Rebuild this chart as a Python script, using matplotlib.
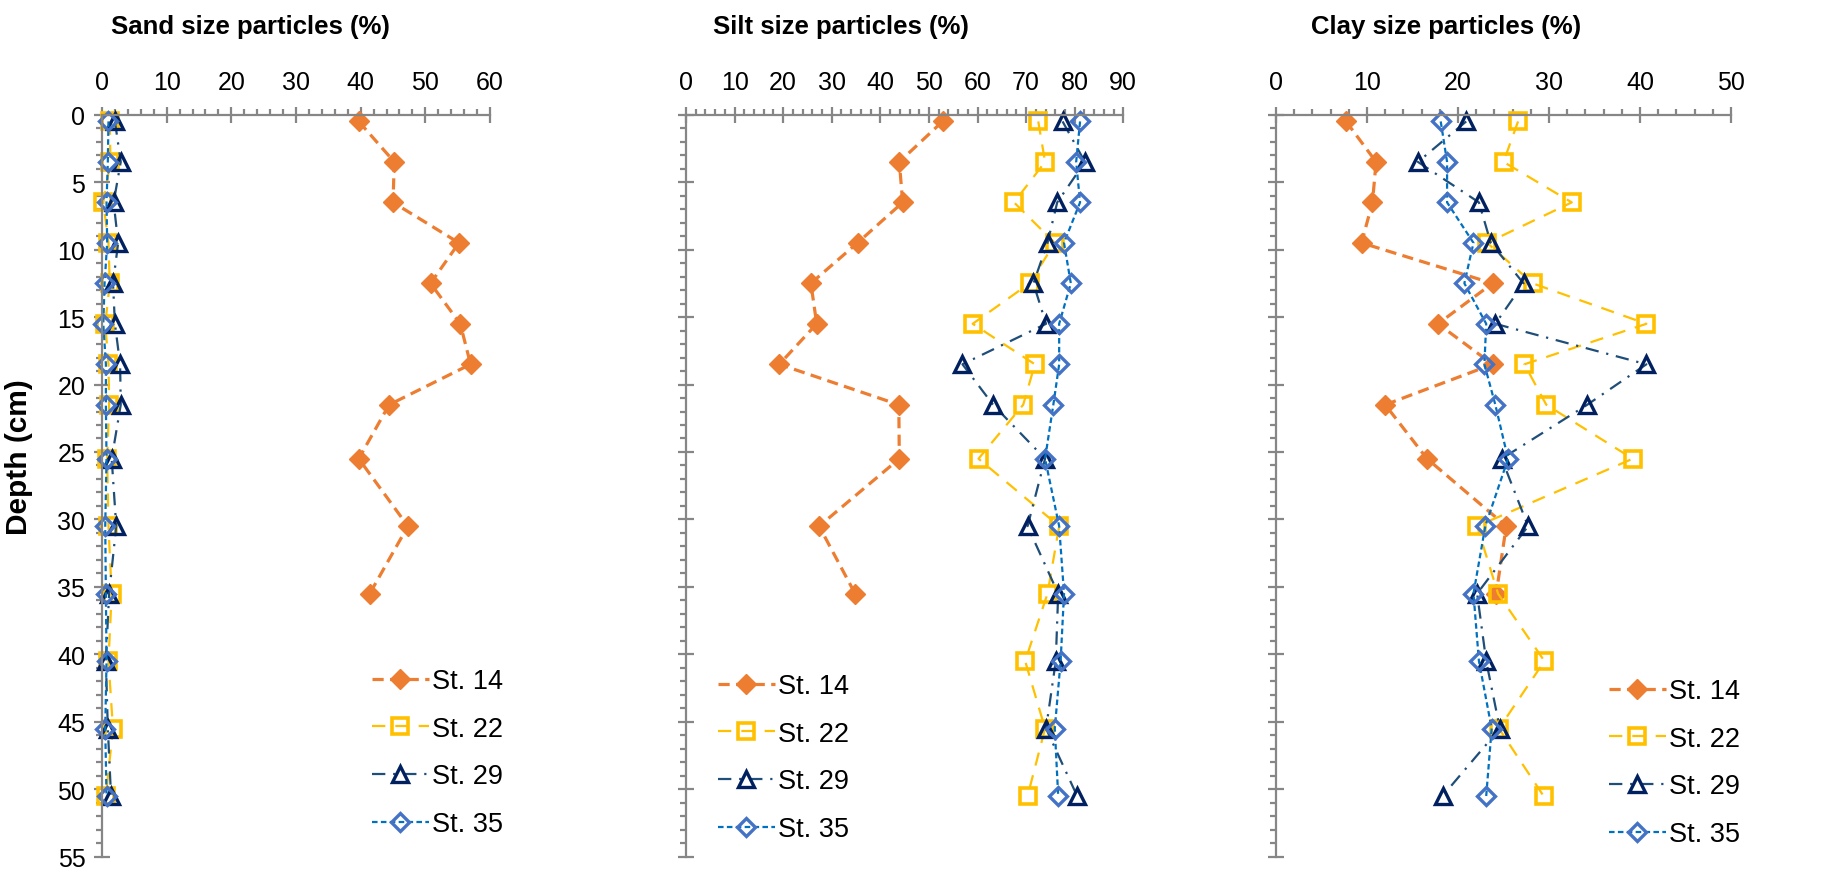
import matplotlib
matplotlib.use("Agg")
import matplotlib.pyplot as plt
from matplotlib.ticker import MultipleLocator

plt.rcParams['font.family'] = ['Liberation Sans', 'DejaVu Sans']

depths = [0.5, 3.5, 6.5, 9.5, 12.5, 15.5, 18.5, 21.5, 25.5, 30.5, 35.5, 40.5, 45.5, 50.5]
stations = ["St. 14", "St. 22", "St. 29", "St. 35"]

sand_st14 = [39.7, 45.2, 45.0, 55.2, 50.8, 55.4, 57.0, 44.4, 39.7, 47.3, 41.4]
sand_st22 = [1.2, 1.3, 0.2, 1.0, 1.2, 0.5, 1.0, 1.1, 0.8, 1.0, 1.5, 1.0, 1.7, 0.6]
sand_st29 = [2.0, 2.9, 1.8, 2.5, 1.7, 2.0, 2.8, 2.9, 1.5, 2.2, 1.1, 0.6, 0.9, 1.4]
sand_st35 = [1.0, 0.9, 0.7, 0.8, 0.4, 0.2, 0.6, 0.6, 0.7, 0.5, 0.6, 0.7, 0.5, 0.7]

silt_st14 = [52.8, 43.9, 44.6, 35.3, 25.7, 26.9, 19.2, 43.8, 43.9, 27.4, 34.8]
silt_st22 = [72.5, 73.9, 67.5, 75.9, 70.7, 59.0, 71.8, 69.4, 60.2, 76.8, 74.4, 69.8, 73.9, 70.3]
silt_st29 = [77.5, 82.1, 76.4, 74.4, 71.5, 74.1, 56.9, 63.2, 73.9, 70.3, 76.6, 76.1, 74.1, 80.5]
silt_st35 = [81.1, 80.3, 81.1, 77.8, 79.2, 76.8, 76.8, 75.6, 73.9, 76.8, 77.8, 77.1, 75.9, 76.6]

clay_st14 = [7.7, 11.0, 10.6, 9.4, 23.8, 17.8, 23.8, 12.0, 16.6, 25.3, 24.2]
clay_st22 = [26.6, 25.0, 32.5, 23.2, 28.2, 40.7, 27.3, 29.7, 39.2, 22.1, 24.4, 29.5, 24.5, 29.4]
clay_st29 = [20.9, 15.6, 22.3, 23.6, 27.2, 24.1, 40.7, 34.2, 24.8, 27.7, 22.1, 23.1, 24.6, 18.3]
clay_st35 = [18.1, 18.8, 18.8, 21.7, 20.7, 23.1, 22.9, 24.1, 25.5, 23.0, 21.7, 22.3, 23.7, 23.1]

titles = ["Sand size particles (%)", "Silt size particles (%)", "Clay size particles (%)"]
xmaxes = [60, 90, 50]
panels = [
    [sand_st14, sand_st22, sand_st29, sand_st35],
    [silt_st14, silt_st22, silt_st29, silt_st35],
    [clay_st14, clay_st22, clay_st29, clay_st35],
]

styles = [
    dict(color='#ED7D31', lw=2.3, ls=(0, (3.5, 2.0)), marker='D', ms=10.5, mfc='#ED7D31', mec='#ED7D31', mew=1),
    dict(color='#FFC000', lw=1.6, ls=(0, (6, 4.5)), marker='s', ms=11.5, mfc='none', mec='#FFC000', mew=2.6),
    dict(color='#1F4E79', lw=1.6, ls=(0, (6, 3.5, 1, 3.5)), marker='^', ms=11.5, mfc='none', mec='#002060', mew=2.4),
    dict(color='#0070C0', lw=1.6, ls=(0, (2.5, 1.5)), marker='D', ms=9, mfc='none', mec='#4472C4', mew=2.4),
]

W, H = 1837, 870
fig = plt.figure(figsize=(W / 100, H / 100), dpi=100)

ax_px = [(102, 490), (686, 1123.3), (1276, 1731)]
y_top, y_bot = 115.7, 857.7
title_cx = [250, 841, 1446]
legend_xy = [(372, 669), (718, 674), (1609, 679)]

fs = 18
gray = '#868686'

for i in range(3):
    x0, x1 = ax_px[i]
    ax = fig.add_axes([x0 / W, 1 - y_bot / H, (x1 - x0) / W, (y_bot - y_top) / H])
    ax.set_xlim(0, xmaxes[i])
    ax.set_ylim(55, 0)
    for j, vals in enumerate(panels[i]):
        ax.plot(vals, depths[:len(vals)], label=stations[j], clip_on=False, **styles[j])
    for s in ['right', 'bottom']:
        ax.spines[s].set_visible(False)
    for s in ['top', 'left']:
        ax.spines[s].set_color(gray)
        ax.spines[s].set_linewidth(1.6)
    ax.xaxis.set_ticks_position('top')
    ax.xaxis.set_label_position('top')
    ax.xaxis.set_major_locator(MultipleLocator(10))
    ax.xaxis.set_minor_locator(MultipleLocator(2))
    ax.yaxis.set_major_locator(MultipleLocator(5))
    ax.yaxis.set_minor_locator(MultipleLocator(1))
    ax.tick_params(axis='both', which='major', direction='inout', length=12, width=1.6, color=gray,
                   labelsize=fs, labelcolor='black')
    ax.tick_params(axis='both', which='minor', direction='out', length=4.5, width=1.6, color=gray)
    ax.tick_params(axis='x', which='major', pad=9)
    ax.tick_params(axis='y', which='major', pad=6)
    if i > 0:
        ax.tick_params(axis='y', labelleft=False)
    fig.text(title_cx[i] / W, 1 - 27 / H, titles[i], ha='center', va='center', fontsize=18.5,
             fontweight='bold')
    lx, ly = legend_xy[i]
    ax.legend(loc='upper left', bbox_to_anchor=(lx / W, 1 - ly / H), bbox_transform=fig.transFigure,
              frameon=False, fontsize=19.5, handlelength=2.1, handletextpad=0.1, labelspacing=0.8,
              borderpad=0, borderaxespad=0)

fig.text(19 / W, 1 - 457 / H, "Depth (cm)", rotation=90, ha='center', va='center', fontsize=21.5,
         fontweight='bold')

fig.savefig("out.png", dpi=100)
